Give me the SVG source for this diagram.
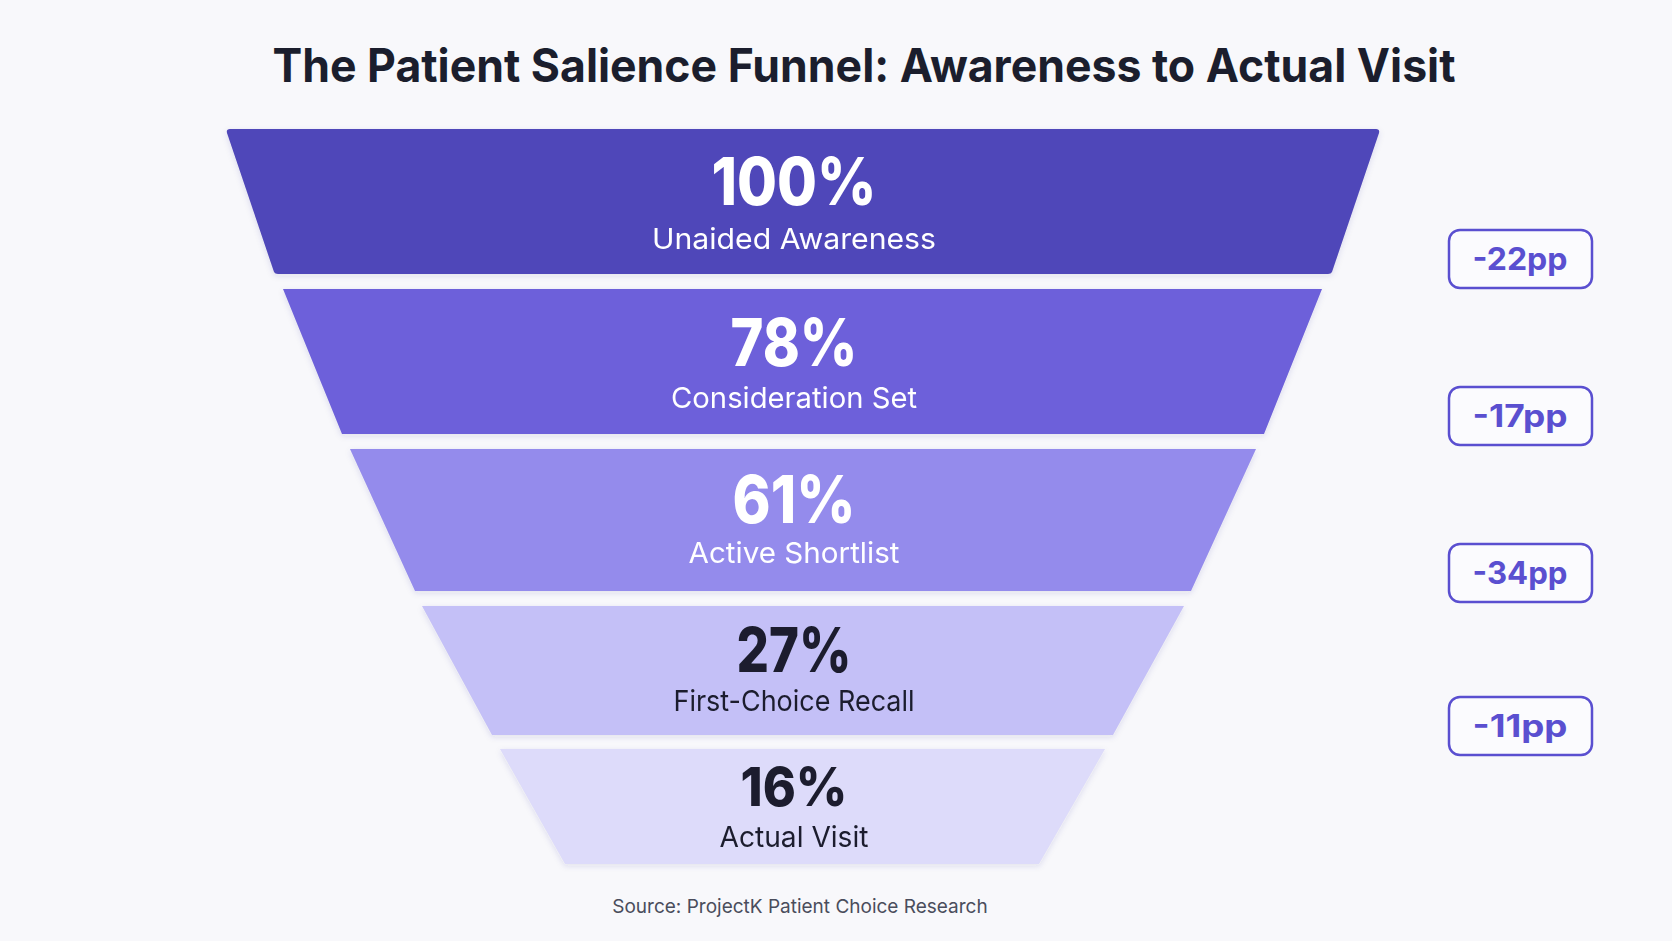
<svg xmlns="http://www.w3.org/2000/svg" width="1672" height="941" viewBox="0 0 1672 941">
<style>
.title{font-family:Inter,"Noto Sans","Liberation Sans",sans-serif;font-weight:700;font-size:46px;fill:#1b1e2d}
.pct{font-family:Inter,"Noto Sans","Liberation Sans",sans-serif;font-weight:800;text-anchor:middle}
.lbl{font-family:Inter,"Noto Sans","Liberation Sans",sans-serif;font-weight:400;font-size:29px;text-anchor:middle}
.light{fill:#ffffff}
.dark{fill:#1b1e2d}
.badge rect{fill:#fbfbfe;stroke:#5a4fd0;stroke-width:2.5}
.badge text{font-family:Inter,"Noto Sans","Liberation Sans",sans-serif;font-weight:700;font-size:31px;fill:#5a4fd0;text-anchor:middle}
.src{font-family:Inter,"Noto Sans","Liberation Sans",sans-serif;font-size:19px;fill:#4a4d5c;text-anchor:middle}
</style>
<defs>
<filter id="sh" x="-5%" y="-10%" width="110%" height="130%">
<feDropShadow dx="0" dy="2" stdDeviation="3" flood-color="#3a3580" flood-opacity="0.12"/>
</filter>
</defs>
<rect width="1672" height="941" fill="#f8f8fb"/>
<text class="title" x="864" y="82" text-anchor="middle" textLength="1183" lengthAdjust="spacingAndGlyphs">The Patient Salience Funnel: Awareness to Actual Visit</text>

<g id="stage-1" filter="url(#sh)">
<path d="M230,129 L1376,129 Q1380,129 1379,133 L1332,272 Q1331,274 1328,274 L278,274 Q275,274 274,272 L227,133 Q226,129 230,129 Z" fill="#4f46b9"/>
<text class="pct light" x="794" y="205" font-size="66" textLength="165" lengthAdjust="spacingAndGlyphs">100%</text>
<text class="lbl light" x="794" y="249" textLength="284" lengthAdjust="spacingAndGlyphs">Unaided Awareness</text>
</g>
<g id="stage-2" filter="url(#sh)">
<path d="M283,289 L1322,289 L1264,434 L342,434 Z" fill="#6d60da"/>
<text class="pct light" x="794" y="366" font-size="66" textLength="127" lengthAdjust="spacingAndGlyphs">78%</text>
<text class="lbl light" x="794" y="408" textLength="246" lengthAdjust="spacingAndGlyphs">Consideration Set</text>
</g>
<g id="stage-3" filter="url(#sh)">
<path d="M350,449 L1256,449 L1191,591 L415,591 Z" fill="#948bec"/>
<text class="pct light" x="794" y="523" font-size="66" textLength="123" lengthAdjust="spacingAndGlyphs">61%</text>
<text class="lbl light" x="794" y="563" textLength="211" lengthAdjust="spacingAndGlyphs">Active Shortlist</text>
</g>
<g id="stage-4" filter="url(#sh)">
<path d="M422,606 L1184,606 L1113,735 L492,735 Z" fill="#c4c0f7"/>
<text class="pct dark" x="794" y="672" font-size="62" textLength="115" lengthAdjust="spacingAndGlyphs">27%</text>
<text class="lbl dark" x="794" y="711" textLength="241" lengthAdjust="spacingAndGlyphs">First-Choice Recall</text>
</g>
<g id="stage-5" filter="url(#sh)">
<path d="M500,749 L1105,749 L1039,864 L565,864 Z" fill="#dddbfa"/>
<text class="pct dark" x="794" y="806" font-size="54" textLength="107" lengthAdjust="spacingAndGlyphs">16%</text>
<text class="lbl dark" x="794" y="847" font-size="28" textLength="149" lengthAdjust="spacingAndGlyphs">Actual Visit</text>
</g>

<g id="drops">
<g class="badge" id="drop-1"><rect x="1449" y="230" width="143" height="58" rx="11"/><text x="1520" y="270" textLength="95" lengthAdjust="spacingAndGlyphs">-22pp</text></g>
<g class="badge" id="drop-2"><rect x="1449" y="387" width="143" height="58" rx="11"/><text x="1520" y="427" textLength="95" lengthAdjust="spacingAndGlyphs">-17pp</text></g>
<g class="badge" id="drop-3"><rect x="1449" y="544" width="143" height="58" rx="11"/><text x="1520" y="584" textLength="95" lengthAdjust="spacingAndGlyphs">-34pp</text></g>
<g class="badge" id="drop-4"><rect x="1449" y="697" width="143" height="58" rx="11"/><text x="1520" y="737" textLength="95" lengthAdjust="spacingAndGlyphs">-11pp</text></g>
</g>

<text class="src" x="800" y="913">Source: ProjectK Patient Choice Research</text>
</svg>
